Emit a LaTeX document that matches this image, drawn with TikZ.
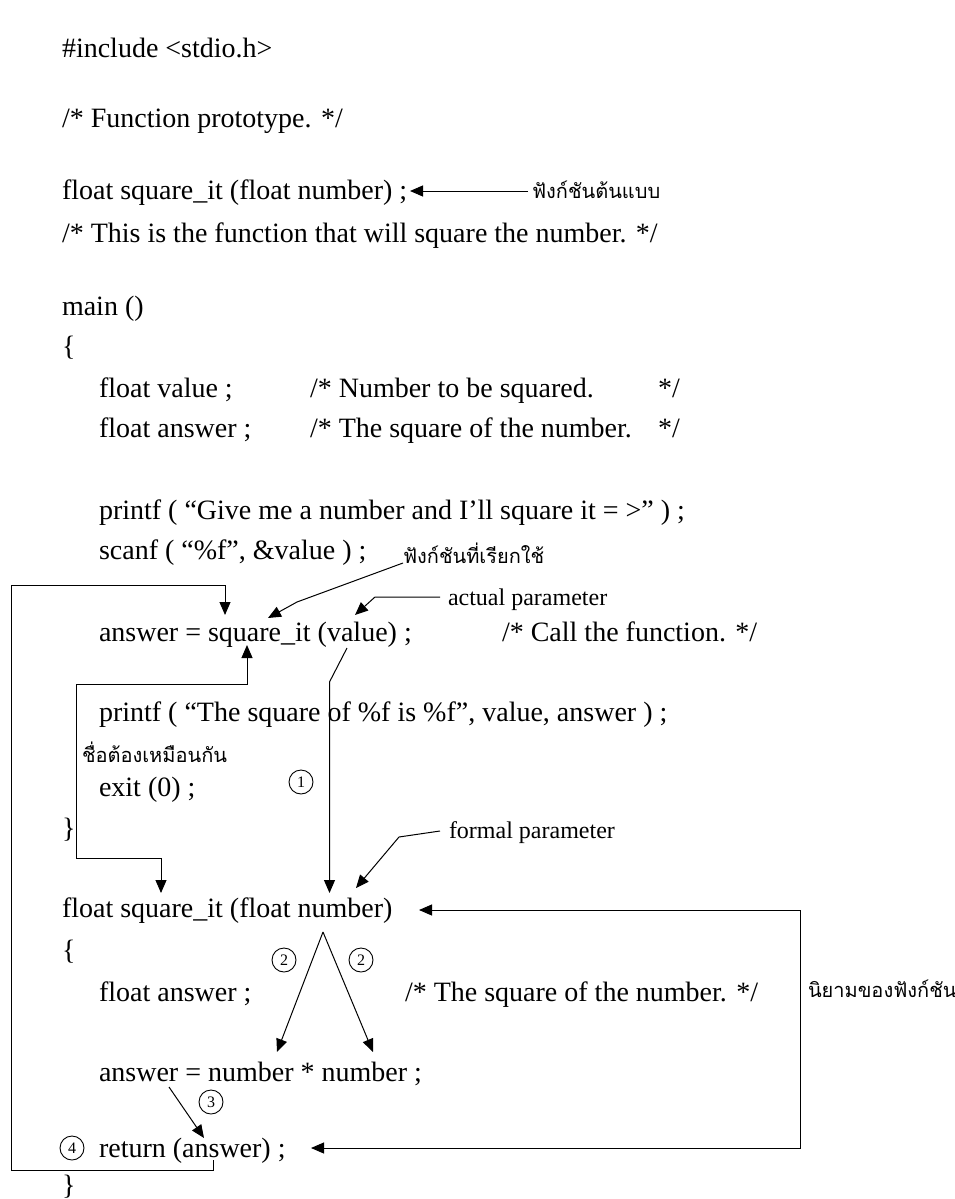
\documentclass[tikz,border=0pt]{standalone}
\usepackage{fontspec}
\setmainfont{Liberation Serif}
\newfontfamily\thai[Script=Thai]{Loma}
\usetikzlibrary{arrows.meta}
\tikzset{
  code/.style={anchor=base west, inner sep=0pt, outer sep=0pt, font=\fontsize{28}{32}\selectfont},
  note/.style={anchor=base west, inner sep=0pt, outer sep=0pt, font=\fontsize{24}{28}\selectfont},
  thainote/.style={anchor=base west, inner sep=0pt, outer sep=0pt, font=\thai\fontsize{20}{24}\selectfont},
  num/.style={circle, draw, line width=0.9pt, minimum size=24pt, inner sep=0pt, font=\fontsize{16}{18}\selectfont},
  link/.style={line width=1pt},
  head/.style={-{Triangle[length=13pt,width=11pt]}},
  heads/.style={{Triangle[length=13pt,width=11pt]}-{Triangle[length=13pt,width=11pt]}},
}
\begin{document}
\begin{tikzpicture}[x=1pt, y=-1pt]
\useasboundingbox (0,0) rectangle (955,1199);

% ---- program text ----
\node[code] (inc)    at (62,58)   {\#include <stdio.h>};
\node[code] (fp)     at (62,127)  {/* Function prototype. */};
\node[code] (proto)  at (62,199)  {float square\_it (float number) ;};
\node[code] (this)   at (62,242)  {/* This is the function that will square the number. */};
\node[code] (main)   at (62,315)  {main ()};
\node[code] (lbA)    at (62,355)  {\{};
\node[code] (fval)   at (99,397)  {float value ;};
\node[code] (cval)   at (310,397) {/* Number to be squared.};
\node[code] (eval)   at (658,397) {*/};
\node[code] (fans)   at (99,437)  {float answer ;};
\node[code] (cans)   at (310,437) {/* The square of the number.};
\node[code] (eans)   at (658,437) {*/};
\node[code] (pf1)    at (99,519)  {printf ( “Give me a number and I’ll square it = >” ) ;};
\node[code] (scan)   at (99,559)  {scanf ( “\%f”, \&value ) ;};
\node[code] (call)   at (99,641)  {answer = square\_it (value) ;};
\node[code] (ccall)  at (502,641) {/* Call the function. */};
\node[code] (pf2)    at (99,721)  {printf ( “The square of \%f is \%f”, value, answer ) ;};
\node[code] (exit)   at (99,796)  {exit (0) ;};
\node[code] (rbA)    at (62,837)  {\}};
\node[code] (def)    at (62,917)  {float square\_it (float number)};
\node[code] (lbB)    at (62,959)  {\{};
\node[code] (dans)   at (99,1001) {float answer ;};
\node[code] (cdans)  at (405,1001){/* The square of the number. */};
\node[code] (mul)    at (99,1081) {answer = number * number ;};
\node[code] (ret)    at (99,1157) {return (answer) ;};
\node[code] (rbB)    at (62,1194) {\}};

% ---- labels ----
\node[thainote] (lproto) at (532,198) {ฟังก์ชันต้นแบบ};
\node[thainote] (lcall)  at (403,563) {ฟังก์ชันที่เรียกใช้};
\node[note]     (lact)   at (448,605) {actual parameter};
\node[thainote] (lsame)  at (82,762)  {ชื่อต้องเหมือนกัน};
\node[note]     (lform)  at (449,838) {formal parameter};
\node[thainote] (ldef)   at (808,997) {นิยามของฟังก์ชัน};

% ---- step numbers ----
\node[num] (n1)  at (301,782)  {1};
\node[num] (n2a) at (284,960)  {2};
\node[num] (n2b) at (361,960)  {2};
\node[num] (n3)  at (211,1102) {3};
\node[num] (n4)  at (72,1148)  {4};

% ---- arrow end points ----
\coordinate (tProto)  at (410,191);
\coordinate (tCall)   at (268,618);
\coordinate (tAct)    at (355,615);
\coordinate (tForm)   at (356,888);
\coordinate (tPass)   at (329.5,893);
\coordinate (sPass)   at (347,648);
\coordinate (tLoopUp) at (247,645);
\coordinate (tLoopDn) at (161,893);
\coordinate (sRet)    at (213,1160);
\coordinate (tOuter)  at (225,615);
\coordinate (tDefTop) at (419,910);
\coordinate (tDefBot) at (311,1148);
\coordinate (apex)    at (323,932);
\coordinate (tMulA)   at (277,1052);
\coordinate (tMulB)   at (373,1052);
\coordinate (sAns)    at (169,1087);
\coordinate (tRet)    at (204,1138);

% ---- connectors ----
\draw[link,head] ([xshift=-4pt]lproto.west |- tProto) -- (tProto);
\draw[link,head] (lcall.base west) -- (297,602) -- (tCall);
\draw[link,head] ([xshift=-8pt]lact.west |- 0,597) -- (375,597) -- (tAct);
\draw[link,head] ([xshift=-9pt]lform.west |- 0,831) -- (399,837) -- (tForm);
\draw[link,head] (sPass) -- (329.5,682) -- (tPass);
\draw[link,heads] (tLoopUp) -- (247,684) -- (76,684) -- (76,858) -- (161,858) -- (tLoopDn);
\draw[link,head] (sRet) -- (213,1170) -- (11,1170) -- (11,585) -- (225,585) -- (tOuter);
\draw[link,heads] (tDefTop) -- (800,910) -- (800,1148) -- (tDefBot);
\draw[link,head] (apex) -- (tMulA);
\draw[link,head] (apex) -- (tMulB);
\draw[link,head] (sAns) -- (tRet);
\end{tikzpicture}
\end{document}
